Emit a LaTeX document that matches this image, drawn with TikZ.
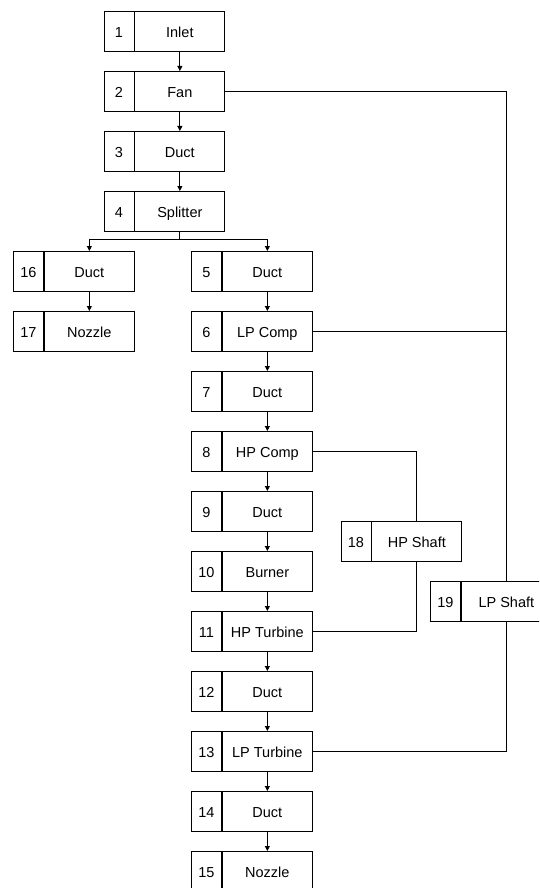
\documentclass[tikz,border=0pt]{standalone}
\usepackage{fontspec}
\setmainfont{Liberation Sans}
\usetikzlibrary{arrows.meta}
\tikzset{
  cell/.style={draw, line width=0.9pt, inner sep=0pt, minimum height=40pt, text height=13pt, text depth=1pt, font=\fontsize{14.5}{17}\selectfont},
  numcell/.style={cell, minimum width=30pt, anchor=north west},
  labcell/.style={cell, minimum width=90pt, anchor=north west},
  flow/.style={line width=0.9pt, -{Triangle[length=5pt,width=5pt]}},
  shaft/.style={line width=0.9pt}
}
\newcommand{\blk}[5]{%
  \node[numcell] (n#1) at (#4,#5) {#2};
  \node[labcell] (#1) at (n#1.north east) {#3};}
\begin{document}
\begin{tikzpicture}[x=1pt,y=-1pt]
\useasboundingbox (0,0) rectangle (539,888);
\clip (0,0) rectangle (539,888);
\fill[white] (0,0) rectangle (539,888);
\blk{b1}{1}{Inlet}{103.5}{11}
\blk{b2}{2}{Fan}{103.5}{71}
\blk{b3}{3}{Duct}{103.5}{131}
\blk{b4}{4}{Splitter}{103.5}{191}
\blk{b16}{16}{Duct}{13}{251}
\blk{b17}{17}{Nozzle}{13}{311}
\blk{b5}{5}{Duct}{191}{251}
\blk{b6}{6}{LP Comp}{191}{311}
\blk{b7}{7}{Duct}{191}{371}
\blk{b8}{8}{HP Comp}{191}{431}
\blk{b9}{9}{Duct}{191}{491}
\blk{b10}{10}{Burner}{191}{551}
\blk{b11}{11}{HP Turbine}{191}{611}
\blk{b12}{12}{Duct}{191}{671}
\blk{b13}{13}{LP Turbine}{191}{731}
\blk{b14}{14}{Duct}{191}{791}
\blk{b15}{15}{Nozzle}{191}{851}
\blk{b18}{18}{HP Shaft}{340.5}{521}
\blk{b19}{19}{LP Shaft}{430}{581}
% flow
\draw[flow] (b1.south) -- (b2.north);
\draw[flow] (b2.south) -- (b3.north);
\draw[flow] (b3.south) -- (b4.north);
\draw[flow] (b4.south) -- ++(0,8) -| (b16.north);
\draw[flow] (b4.south) -- ++(0,8) -| (b5.north);
\draw[flow] (b16.south) -- (b17.north);
\draw[flow] (b5.south) -- (b6.north);
\draw[flow] (b6.south) -- (b7.north);
\draw[flow] (b7.south) -- (b8.north);
\draw[flow] (b8.south) -- (b9.north);
\draw[flow] (b9.south) -- (b10.north);
\draw[flow] (b10.south) -- (b11.north);
\draw[flow] (b11.south) -- (b12.north);
\draw[flow] (b12.south) -- (b13.north);
\draw[flow] (b13.south) -- (b14.north);
\draw[flow] (b14.south) -- (b15.north);
% shafts
\draw[shaft] (b2.east) -| (b19.north);
\draw[shaft] (b6.east) -- (b6.east -| b19.north);
\draw[shaft] (b13.east) -| (b19.south);
\draw[shaft] (b8.east) -| (b18.north);
\draw[shaft] (b11.east) -| (b18.south);
\end{tikzpicture}
\end{document}
